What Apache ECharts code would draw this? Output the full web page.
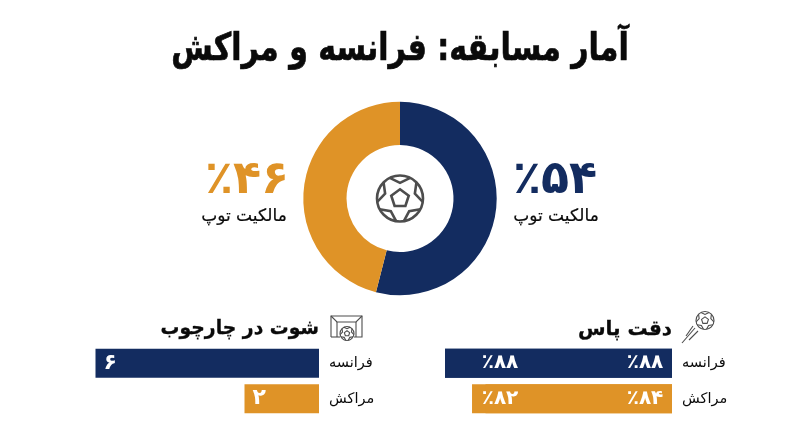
<!DOCTYPE html>
<html lang="fa"><head><meta charset="utf-8">
<style>html,body{margin:0;padding:0;background:#fff}#c{width:800px;height:447px}</style>
<script src="https://cdn.jsdelivr.net/npm/echarts@6/dist/echarts.min.js"></script>
</head><body><div id="c"></div>
<script>
const teams = ['فرانسه', 'مراکش'];
const possession = [54, 46];
const possessionLabel = 'مالکیت توپ';
const passRight = [88, 84];
const passLeft = [88, 82];
const shotsOnTarget = [6, 2];
const titleText = 'آمار مسابقه: فرانسه و مراکش';
const passTitle = 'دقت پاس';
const shotTitle = 'شوت در چارچوب';
const NAVY = '#132C60', ORANGE = '#DF9327', INK = '#0a0a0a', ICON = '#4d4d4d';
const FONT = '"DejaVu Sans", sans-serif';
const fa = v => String(v).replace(/\d/g, d => '۰۱۲۳۴۵۶۷۸۹'[d]);
const pct = v => '٪' + fa(v);
const teamColor = { color: p => [NAVY, ORANGE][p.dataIndex] };

function ngon(cx, cy, r, n, rot) {
  const pts = [];
  for (let i = 0; i < n; i++) {
    const a = rot + i * 2 * Math.PI / n;
    pts.push([cx + r * Math.cos(a), cy + r * Math.sin(a)]);
  }
  return pts;
}
function ball(cx, cy, r, lw) {
  const st = { stroke: ICON, lineWidth: lw, fill: 'none' };
  const kids = [];
  for (let i = 0; i < 5; i++) {
    const a = -Math.PI / 2 + i * 2 * Math.PI / 5;
    const d = 0.46;
    kids.push({ type: 'polyline', shape: { points: [
      [cx + r * Math.cos(a - d), cy + r * Math.sin(a - d)],
      [cx + r * 0.68 * Math.cos(a), cy + r * 0.68 * Math.sin(a)],
      [cx + r * Math.cos(a + d), cy + r * Math.sin(a + d)]
    ] }, style: st });
  }
  kids.push({ type: 'circle', shape: { cx, cy, r }, style: st });
  kids.push({ type: 'polygon', shape: { points: ngon(cx, cy, r * 0.4, 5, -Math.PI / 2) }, style: st });
  return kids;
}
const thin = { stroke: ICON, lineWidth: 1.1, fill: 'none' };
const line = (a, b, c, d) => ({ type: 'line', shape: { x1: a, y1: b, x2: c, y2: d }, style: thin });
const txt = (text, x, y, size, weight, fill, align, sx, sw) => ({
  type: 'text', x, y, scaleX: sx || 1, silent: true,
  style: { text, fontFamily: FONT, fontSize: size, fontWeight: weight, fill, align, verticalAlign: 'middle',
           stroke: sw ? fill : 'transparent', lineWidth: sw || 0 }
});

const chart = echarts.init(document.getElementById('c'), null, { renderer: 'canvas' });
chart.setOption({
  animation: false,
  backgroundColor: '#fff',
  textStyle: { fontFamily: FONT },
  grid: [
    { left: 445, right: 128, top: 345.5, height: 71 },
    { left: 95.5, right: 481, top: 345.5, height: 71 }
  ],
  xAxis: [
    { gridIndex: 0, type: 'value', inverse: true, min: 54.4, max: 88, show: false },
    { gridIndex: 1, type: 'value', inverse: true, min: 0, max: 6, show: false }
  ],
  yAxis: [0, 1].map(i => ({
    gridIndex: i, type: 'category', inverse: true, data: teams, position: 'right',
    axisLine: { show: false }, axisTick: { show: false },
    axisLabel: { margin: 10, fontSize: 14.5, color: INK, fontFamily: FONT, align: 'left' }
  })),
  series: [
    { type: 'pie', center: [400, 198.5], radius: [53.5, 96.7], startAngle: 90, silent: true,
      label: { show: false }, labelLine: { show: false },
      data: possession.map((v, i) => ({ value: v, name: teams[i], itemStyle: { color: [NAVY, ORANGE][i] } }))
    },
    { type: 'bar', xAxisIndex: 0, yAxisIndex: 0, barWidth: 29, barGap: '-100%', silent: true,
      data: passRight, itemStyle: teamColor,
      label: { show: true, formatter: p => pct(p.value), color: '#fff', fontFamily: FONT, fontSize: 20, fontWeight: 'bold' },
      labelLayout: { x: 645, align: 'center', verticalAlign: 'middle' } },
    { type: 'bar', xAxisIndex: 0, yAxisIndex: 0, barWidth: 29, barGap: '-100%', silent: true,
      data: passLeft, itemStyle: teamColor,
      label: { show: true, formatter: p => pct(p.value), color: '#fff', fontFamily: FONT, fontSize: 20, fontWeight: 'bold' },
      labelLayout: { x: 500, align: 'center', verticalAlign: 'middle' } },
    { type: 'bar', xAxisIndex: 1, yAxisIndex: 1, barWidth: 29, silent: true,
      data: shotsOnTarget, itemStyle: teamColor,
      label: { show: true, position: 'insideLeft', distance: 8, formatter: p => fa(p.value), color: '#fff', fontFamily: FONT, fontSize: 22, fontWeight: 'bold' } }
  ],
  graphic: [
    txt(titleText, 400, 50, 38, 'bold', INK, 'center', 0.79, 0.7),
    txt(passTitle, 672, 330, 20, 'bold', INK, 'right', 1, 0.3),
    txt(shotTitle, 319, 329, 20, 'bold', INK, 'right', 0.94, 0.3),
    txt(pct(possession[0]), 555, 181, 46, 'bold', NAVY, 'center'),
    txt(possessionLabel, 556, 216.5, 17, 'normal', INK, 'center', 1, 0.2),
    txt(pct(possession[1]), 247, 181, 46, 'bold', ORANGE, 'center'),
    txt(possessionLabel, 244, 216.5, 17, 'normal', INK, 'center', 1, 0.2),
    { type: 'group', silent: true, children: ball(400, 198.5, 23, 2.6) },
    { type: 'group', silent: true, children: ball(705, 320.5, 9, 1.1).concat([
      line(682, 343, 695, 328), line(689, 340, 698, 331), line(686, 336, 693, 326)
    ]) },
    { type: 'group', silent: true, children: [
      { type: 'polyline', shape: { points: [[331, 337], [331, 316], [362, 316], [362, 337], [354, 337]] }, style: thin },
      { type: 'polyline', shape: { points: [[331, 316], [337, 322], [356, 322], [362, 316]] }, style: thin },
      line(337, 322, 337, 337), line(356, 322, 356, 337), line(331, 337, 340, 337)
    ].concat(ball(347, 333.5, 7, 1.1)) }
  ]
});
</script></body></html>
